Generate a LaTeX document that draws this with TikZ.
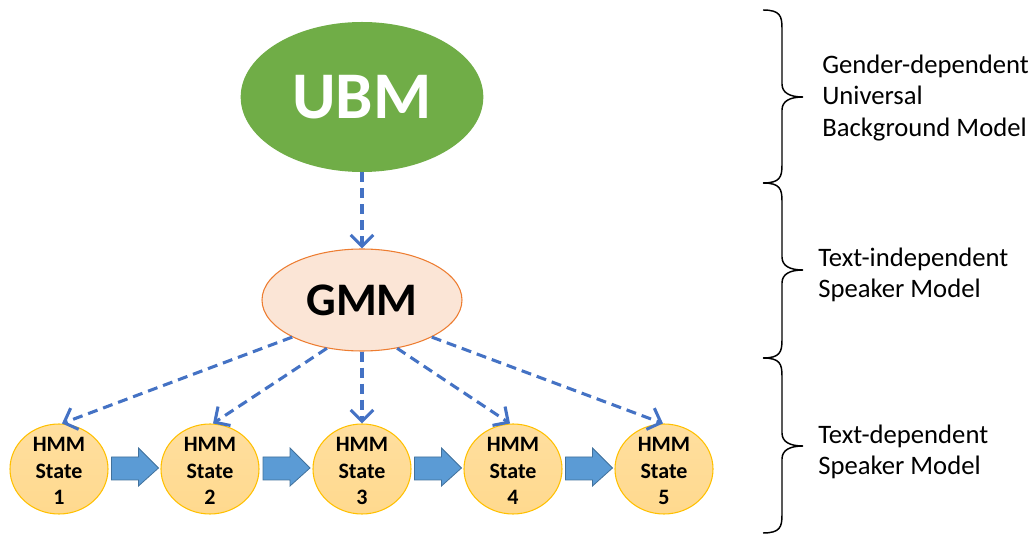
\documentclass[tikz,border=0pt]{standalone}
\usepackage{fontspec}
\setmainfont{Carlito}
\usetikzlibrary{arrows.meta,calc,shapes.geometric}
\definecolor{ubmgreen}{HTML}{70AD47}
\definecolor{gmmfill}{HTML}{FBE5D6}
\definecolor{gmmline}{HTML}{ED7D31}
\definecolor{hmmfill}{HTML}{FFD98E}
\definecolor{hmmline}{HTML}{FFC000}
\definecolor{dashblue}{HTML}{4472C4}
\definecolor{blockfill}{HTML}{5B9BD5}
\definecolor{blockline}{HTML}{41719C}
\tikzset{
  ubmnode/.style={ellipse, fill=ubmgreen, minimum width=182pt, minimum height=112.5pt, inner sep=0pt,
    text=white, font=\fontsize{50}{56}\selectfont\bfseries},
  gmmnode/.style={ellipse, fill=gmmfill, draw=gmmline, line width=0.8pt, minimum width=150pt, minimum height=76.5pt, inner sep=0pt,
    font=\fontsize{35}{40}\selectfont\bfseries},
  hmmnode/.style={ellipse, top color=hmmfill!85!white, bottom color=hmmfill, draw=hmmline, line width=0.8pt,
    minimum width=73.5pt, minimum height=67.5pt, inner sep=0pt, align=center,
    font=\fontsize{16.5}{20}\selectfont\bfseries},
  dashlink/.style={draw=dashblue, line width=2.3pt, dash pattern=on 7.5pt off 4.5pt,
    -{Straight Barb[length=8.5pt,width=17pt,line width=2.3pt]}},
  blockarrow/.style={fill=blockfill, draw=blockline, line width=0.6pt},
  bracepath/.style={draw=black, line width=1.1pt},
  sidetext/.style={anchor=west, align=left, font=\fontsize{20}{23.5}\selectfont, inner sep=0pt}
}
\begin{document}
\begin{tikzpicture}[x=0.75pt,y=-0.75pt]
\useasboundingbox (0,0) rectangle (1032,541);
\node[ubmnode] (ubm) at (362,97) {UBM};
\node[gmmnode] (gmm) at (362,300) {GMM};
\foreach \i/\x in {1/59,2/210,3/362,4/513,5/664}{
  \node[hmmnode] (h\i) at (\x,469) {};
  \node[align=center, inner sep=0pt, font=\fontsize{16.5}{20}\selectfont\bfseries] (l\i) at (\x,471) {HMM\\State\\\i};
}
\draw[dashlink] (ubm.south) -- (gmm.north);
\draw[dashlink] (gmm.208) -- ($(h1.north)+(3,0)$);
\draw[dashlink] (gmm.234) -- ($(h2.north)+(3,0)$);
\draw[dashlink] (gmm.south) -- (h3.north);
\draw[dashlink] (gmm.306) -- ($(h4.north)+(-3,0)$);
\draw[dashlink] (gmm.332) -- ($(h5.north)+(-1,0)$);
\foreach \a/\b in {1/2,2/3,3/4,4/5}{
  \coordinate (m\a) at ($(h\a)!0.5!(h\b)$);
  \draw[blockarrow] ($(m\a)+(-23,-12)$) -- ($(m\a)+(4,-12)$) -- ($(m\a)+(4,-21)$) -- ($(m\a)+(24,-1)$)
    -- ($(m\a)+(4,17)$) -- ($(m\a)+(4,11)$) -- ($(m\a)+(-23,11)$) -- cycle;
}
\foreach \ya/\ym/\yb in {10/97/183,183/270/358,358/446/533}{
  \draw[bracepath] (763,\ya) .. controls (780,\ya) and (782,{\ya+6}) .. (782,{\ya+18})
    -- (782,{\ym-13}) .. controls (782,{\ym-4}) and (790,\ym) .. (803,\ym)
    .. controls (790,\ym) and (782,{\ym+4}) .. (782,{\ym+13})
    -- (782,{\yb-18}) .. controls (782,{\yb-6}) and (780,\yb) .. (763,\yb);
}
\node[sidetext] (t1) at (822,98) {Gender-dependent\\Universal\\Background Model};
\node[sidetext] (t2) at (818,275) {Text-independent\\Speaker Model};
\node[sidetext] (t3) at (818,452) {Text-dependent\\Speaker Model};
\end{tikzpicture}
\end{document}
